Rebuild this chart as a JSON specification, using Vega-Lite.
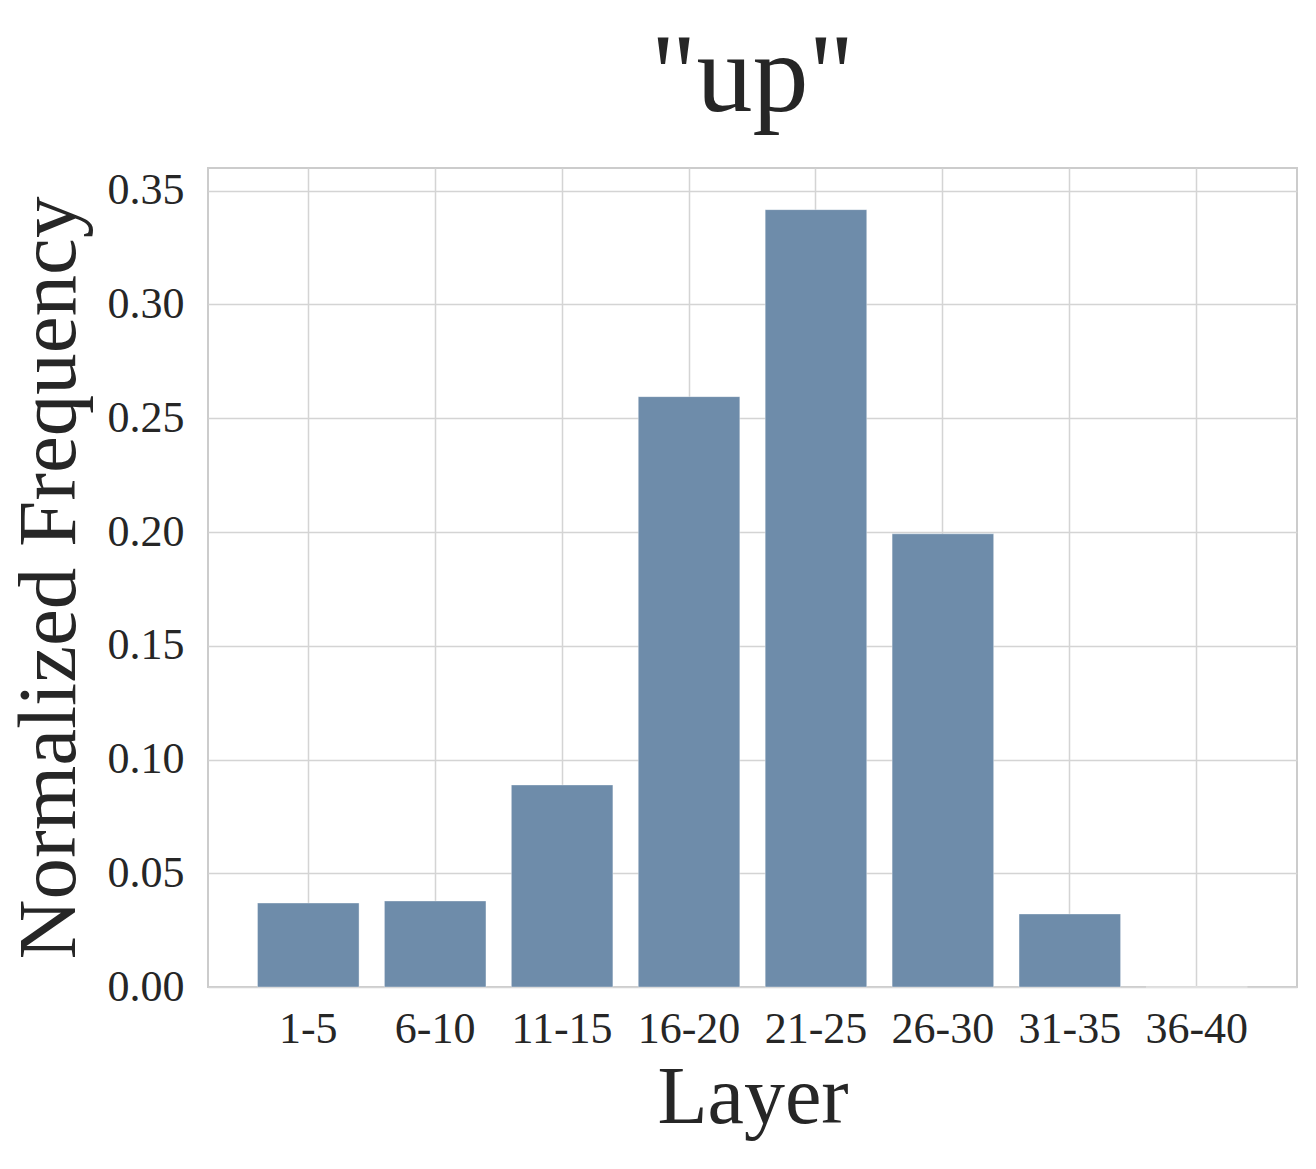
{
  "$schema": "https://vega.github.io/schema/vega-lite/v6.json",
  "autosize": {"type": "none"},
  "padding": {"left": 208, "top": 168, "right": 19, "bottom": 182},
  "width": 1089,
  "height": 819,
  "background": "white",
  "title": {
    "text": "\"up\"",
    "font": "Liberation Serif",
    "fontSize": 112,
    "fontWeight": "normal",
    "color": "#262626",
    "anchor": "middle",
    "baseline": "alphabetic",
    "offset": 53,
    "dy": 108
  },
  "data": {
    "values": [
      {"layer": "1-5", "freq": 0.0369},
      {"layer": "6-10", "freq": 0.0378},
      {"layer": "11-15", "freq": 0.0888},
      {"layer": "16-20", "freq": 0.2595},
      {"layer": "21-25", "freq": 0.3417},
      {"layer": "26-30", "freq": 0.1992},
      {"layer": "31-35", "freq": 0.0321},
      {"layer": "36-40", "freq": 0.0}
    ]
  },
  "mark": {"type": "bar", "color": "#6E8CAA", "stroke": "#ffffff", "strokeOpacity": 0.35, "strokeWidth": 1},
  "encoding": {
    "x": {
      "field": "layer",
      "type": "nominal",
      "sort": null,
      "scale": {"paddingInner": 0.2, "paddingOuter": 0.39},
      "axis": {
        "title": "Layer",
        "titleFont": "Liberation Serif",
        "titleFontSize": 82,
        "titleFontWeight": "normal",
        "titleColor": "#262626",
        "titleBaseline": "alphabetic",
        "titleAlign": "center",
        "titleX": 544.5,
        "titleY": 135,
        "labelFont": "Liberation Serif",
        "labelFontSize": 44,
        "labelColor": "#262626",
        "labelAngle": 0,
        "labelBaseline": "alphabetic",
        "labelPadding": 55,
        "ticks": false,
        "domain": false,
        "grid": true,
        "bandPosition": 0.5,
        "gridColor": "#d4d4d4",
        "gridWidth": 1.5
      }
    },
    "y": {
      "field": "freq",
      "type": "quantitative",
      "scale": {"domain": [0, 0.36], "nice": false, "zero": true},
      "axis": {
        "title": "Normalized Frequency",
        "titleFont": "Liberation Serif",
        "titleFontSize": 83,
        "titleFontWeight": "normal",
        "titleColor": "#262626",
        "titleAngle": -90,
        "titleBaseline": "alphabetic",
        "titleAlign": "center",
        "titleX": -134,
        "titleY": 409.5,
        "values": [0, 0.05, 0.1, 0.15, 0.2, 0.25, 0.3, 0.35],
        "format": ".2f",
        "labelFont": "Liberation Serif",
        "labelFontSize": 44,
        "labelColor": "#262626",
        "labelPadding": 24,
        "ticks": false,
        "domain": false,
        "grid": true,
        "gridColor": "#d4d4d4",
        "gridWidth": 1.5
      }
    }
  },
  "config": {
    "view": {"stroke": "#cccccc", "strokeWidth": 2}
  }
}
